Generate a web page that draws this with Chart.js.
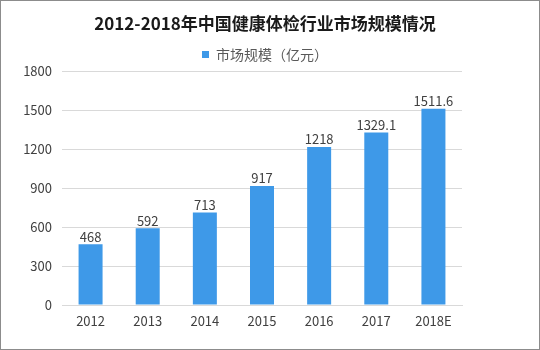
<!DOCTYPE html>
<html>
<head>
<meta charset="utf-8">
<script src="https://cdn.jsdelivr.net/npm/chart.js@4"></script>
<style>
html,body{margin:0;padding:0;background:#fff;}
#wrap{width:540px;height:350px;position:relative;}
</style>
</head>
<body>
<div id="wrap"><canvas id="c" width="540" height="350"></canvas></div>
<script>
const categories = ['2012','2013','2014','2015','2016','2017','2018E'];
const marketSize = [468, 592, 713, 917, 1218, 1329.1, 1511.6];
const valueLabels = ['468','592','713','917','1218','1329.1','1511.6'];
const yTicks = [0, 300, 600, 900, 1200, 1500, 1800];
const seriesName = '市场规模（亿元）';
const titleText = '2012-2018年中国健康体检行业市场规模情况';

const FONT = "'Noto Sans CJK SC', 'Noto Sans', sans-serif";

const valueLabelPlugin = {
  id: 'valueLabels',
  afterDatasetsDraw(chart) {
    const ctx = chart.ctx;
    const meta = chart.getDatasetMeta(0);
    ctx.save();
    ctx.font = '13px ' + FONT;
    ctx.fillStyle = '#404040';
    ctx.textAlign = 'center';
    ctx.textBaseline = 'bottom';
    meta.data.forEach((bar, i) => {
      ctx.fillText(valueLabels[i], bar.x, bar.y - 1);
    });
    ctx.restore();
  }
};

const framePlugin = {
  id: 'frame',
  afterDraw(chart) {
    const ctx = chart.ctx;
    ctx.save();
    ctx.strokeStyle = '#8c8c8c';
    ctx.lineWidth = 1;
    ctx.strokeRect(0.5, 0.5, chart.width - 1, chart.height - 1);
    ctx.restore();
  }
};

new Chart(document.getElementById('c'), {
  type: 'bar',
  data: {
    labels: categories,
    datasets: [{
      label: seriesName,
      data: marketSize,
      backgroundColor: '#3e99e8',
      borderWidth: 0,
      categoryPercentage: 1,
      barPercentage: 0.42,
      yAxisID: 'y'
    }]
  },
  options: {
    responsive: false,
    animation: false,
    devicePixelRatio: 1,
    layout: { padding: { left: 0, right: 10, top: 0, bottom: 0 } },
    plugins: {
      title: {
        display: true,
        text: titleText,
        color: '#1a1a1a',
        font: { family: FONT, size: 17, weight: 'bold', lineHeight: 1.2 },
        padding: { top: 13, bottom: 0 }
      },
      legend: {
        display: true,
        labels: {
          color: '#595959',
          font: { family: FONT, size: 14 },
          boxWidth: 7,
          boxHeight: 7,
          padding: 14
        }
      },
      tooltip: { enabled: false }
    },
    scales: {
      x: {
        grid: { display: false, drawTicks: false },
        border: { display: true, color: '#d9d9d9' },
        ticks: { color: '#404040', font: { family: FONT, size: 13 }, padding: 8, maxRotation: 0 },
        afterFit(s) { s.height = 45; }
      },
      y: {
        position: 'left',
        min: 0,
        max: 1800,
        afterBuildTicks(s) { s.ticks = yTicks.map(v => ({ value: v })); },
        grid: { color: '#d9d9d9', drawTicks: false },
        border: { display: false },
        ticks: { color: '#404040', font: { family: FONT, size: 13 }, padding: 10, callback: v => String(v) },
        afterFit(s) { s.width = 62; }
      },
      yRight: {
        position: 'right',
        display: true,
        grid: { display: false, drawTicks: false },
        border: { display: false },
        ticks: { display: false },
        afterFit(s) { s.width = 68; }
      }
    }
  },
  plugins: [valueLabelPlugin, framePlugin]
});
</script>
</body>
</html>
